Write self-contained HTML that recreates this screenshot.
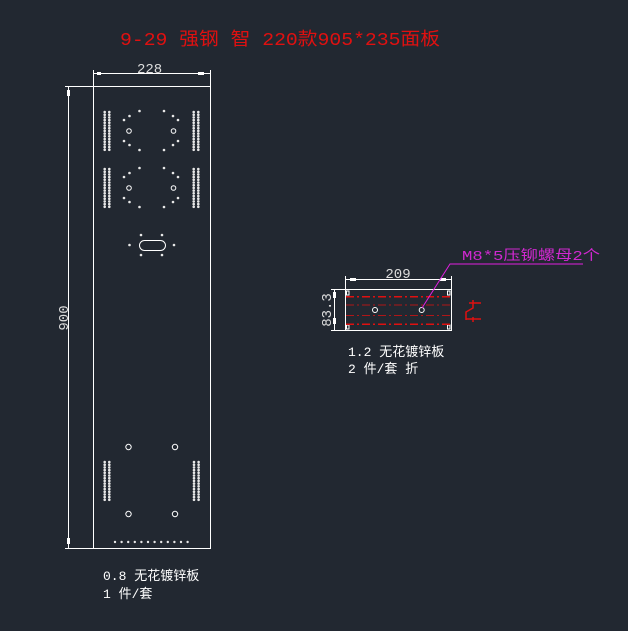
<!DOCTYPE html>
<html><head><meta charset="utf-8"><style>
html,body{margin:0;padding:0;background:#222831;}
svg{display:block}
text{font-family:"Liberation Mono","Noto Sans CJK SC",monospace;}
</style></head><body>
<svg width="628" height="631" viewBox="0 0 628 631" xmlns="http://www.w3.org/2000/svg">
<rect width="628" height="631" fill="#222831"/>
<text x="120" y="45" fill="#e01010" font-size="18" textLength="320" lengthAdjust="spacingAndGlyphs">9-29 强钢 智 220款905*235面板</text>

<g stroke="#fff" fill="none" stroke-width="1">
<rect x="93.5" y="86.5" width="117" height="462"/>
<line x1="93.5" y1="70" x2="93.5" y2="86"/>
<line x1="210.5" y1="70" x2="210.5" y2="86"/>
<line x1="93" y1="73.5" x2="211" y2="73.5"/>
<line x1="65" y1="86.5" x2="93" y2="86.5"/>
<line x1="65" y1="548.5" x2="93" y2="548.5"/>
<line x1="68.5" y1="86" x2="68.5" y2="549"/>
</g>
<g fill="#fff">
<rect x="97" y="72" width="4" height="3"/><rect x="198" y="72" width="6" height="3"/>
<rect x="67" y="90" width="3" height="6"/><rect x="67" y="538" width="3" height="6"/>
</g>
<text x="137" y="73" fill="#ddd" font-size="14">228</text>
<text transform="translate(68,318) rotate(-90)" fill="#ddd" font-size="14" text-anchor="middle">900</text>

<g stroke="#fff" fill="none" stroke-width="1">
<circle cx="129" cy="131" r="2.3"/><circle cx="173.5" cy="131" r="2.3"/>
<circle cx="129" cy="188" r="2.3"/><circle cx="173.5" cy="188" r="2.3"/>
<rect x="139.5" y="240.5" width="26" height="10" rx="5"/>
<circle cx="128.5" cy="447" r="2.7"/><circle cx="175" cy="447" r="2.7"/>
<circle cx="128.5" cy="514" r="2.7"/><circle cx="175" cy="514" r="2.7"/>
</g>
<defs>
<g id="col">
<circle cx="0" cy="0" r="1.3"/><circle cx="4.6" cy="0" r="1.3"/><circle cx="0" cy="2.7" r="1.3"/><circle cx="4.6" cy="2.7" r="1.3"/><circle cx="0" cy="5.4" r="1.3"/><circle cx="4.6" cy="5.4" r="1.3"/><circle cx="0" cy="8.1" r="1.3"/><circle cx="4.6" cy="8.1" r="1.3"/><circle cx="0" cy="10.8" r="1.3"/><circle cx="4.6" cy="10.8" r="1.3"/><circle cx="0" cy="13.5" r="1.3"/><circle cx="4.6" cy="13.5" r="1.3"/><circle cx="0" cy="16.2" r="1.3"/><circle cx="4.6" cy="16.2" r="1.3"/><circle cx="0" cy="18.9" r="1.3"/><circle cx="4.6" cy="18.9" r="1.3"/><circle cx="0" cy="21.6" r="1.3"/><circle cx="4.6" cy="21.6" r="1.3"/><circle cx="0" cy="24.3" r="1.3"/><circle cx="4.6" cy="24.3" r="1.3"/><circle cx="0" cy="27" r="1.3"/><circle cx="4.6" cy="27" r="1.3"/><circle cx="0" cy="29.7" r="1.3"/><circle cx="4.6" cy="29.7" r="1.3"/><circle cx="0" cy="32.4" r="1.3"/><circle cx="4.6" cy="32.4" r="1.3"/><circle cx="0" cy="35.1" r="1.3"/><circle cx="4.6" cy="35.1" r="1.3"/><circle cx="0" cy="37.8" r="1.3"/><circle cx="4.6" cy="37.8" r="1.3"/>
</g>
<g id="ring">
<circle cx="139.5" cy="111" r="1.3"/><circle cx="164" cy="111" r="1.3"/><circle cx="129.5" cy="116" r="1.3"/><circle cx="173" cy="116" r="1.3"/><circle cx="124" cy="120" r="1.3"/><circle cx="178" cy="120" r="1.3"/><circle cx="124" cy="141" r="1.3"/><circle cx="178" cy="141" r="1.3"/><circle cx="129.5" cy="145" r="1.3"/><circle cx="173" cy="145" r="1.3"/><circle cx="139.5" cy="150" r="1.3"/><circle cx="164" cy="150" r="1.3"/>
</g>
</defs>
<g fill="#e8e8e8">
<use href="#col" x="104.7" y="112"/><use href="#col" x="193.7" y="112"/>
<use href="#col" x="104.7" y="169"/><use href="#col" x="193.7" y="169"/>
<use href="#col" x="104.7" y="462"/><use href="#col" x="194" y="462"/>
<use href="#ring"/><use href="#ring" y="57"/>
<circle cx="141" cy="235" r="1.3"/><circle cx="162" cy="235" r="1.3"/><circle cx="129.5" cy="245" r="1.3"/><circle cx="174" cy="245" r="1.3"/><circle cx="141" cy="255" r="1.3"/><circle cx="162" cy="255" r="1.3"/>
<circle cx="115" cy="542" r="1.2"/><circle cx="121.6" cy="542" r="1.2"/><circle cx="128.2" cy="542" r="1.2"/><circle cx="134.8" cy="542" r="1.2"/><circle cx="141.4" cy="542" r="1.2"/><circle cx="148" cy="542" r="1.2"/><circle cx="154.6" cy="542" r="1.2"/><circle cx="161.2" cy="542" r="1.2"/><circle cx="167.8" cy="542" r="1.2"/><circle cx="174.4" cy="542" r="1.2"/><circle cx="181" cy="542" r="1.2"/><circle cx="187.6" cy="542" r="1.2"/>
</g>
<text x="103" y="580" fill="#fff" font-size="13">0.8 无花镀锌板</text>
<text x="103" y="598" fill="#fff" font-size="13">1 件/套</text>

<g stroke="#fff" fill="none" stroke-width="1">
<rect x="345.5" y="289.5" width="106" height="41"/>
<line x1="345.5" y1="276" x2="345.5" y2="289"/>
<line x1="451.5" y1="276" x2="451.5" y2="289"/>
<line x1="345" y1="279.5" x2="452" y2="279.5"/>
<line x1="331" y1="289.5" x2="345" y2="289.5"/>
<line x1="331" y1="330.5" x2="345" y2="330.5"/>
<line x1="334.5" y1="289" x2="334.5" y2="331"/>
<circle cx="375" cy="310" r="2.5"/><circle cx="421.7" cy="310" r="2.5"/>
<rect x="346.5" y="291" width="2.5" height="4"/><rect x="447.5" y="291" width="2.5" height="4"/>
<rect x="346.5" y="325" width="2.5" height="4"/><rect x="447.5" y="325" width="2.5" height="4"/>
</g>
<g fill="#fff"><rect x="350" y="278" width="6" height="3"/><rect x="440" y="278" width="6" height="3"/>
<rect x="333" y="292" width="3" height="6"/><rect x="333" y="318" width="3" height="6"/></g>
<g stroke="#e01010" fill="none">
<line x1="346" y1="296.7" x2="451" y2="296.7" stroke-width="1.5" stroke-dasharray="8,3,2,3"/>
<line x1="346" y1="324.3" x2="451" y2="324.3" stroke-width="1.5" stroke-dasharray="8,3,2,3"/>
<line x1="346" y1="305" x2="451" y2="305" stroke-width="0.8" stroke-dasharray="8,3,2,3"/>
<line x1="346" y1="315.5" x2="451" y2="315.5" stroke-width="0.8" stroke-dasharray="8,3,2,3"/>
<path d="M473 300 V308 L466 312 V320 M469 303 H481 M466 319 H481 M473 317 V322" stroke-width="1.5"/>
</g>
<text x="398" y="278" fill="#ddd" font-size="14" text-anchor="middle">209</text>
<text transform="translate(331,310) rotate(-90)" fill="#ddd" font-size="14" text-anchor="middle">83.3</text>
<polyline points="422,308 450,264 583,264" stroke="#e020e0" fill="none" stroke-width="1"/>
<text x="462" y="260" fill="#d028d0" font-size="14" textLength="138" lengthAdjust="spacingAndGlyphs">M8*5压铆螺母2个</text>
<text x="348" y="356" fill="#fff" font-size="13">1.2 无花镀锌板</text>
<text x="348" y="373" fill="#fff" font-size="13">2 件/套 折</text>
</svg>
</body></html>
